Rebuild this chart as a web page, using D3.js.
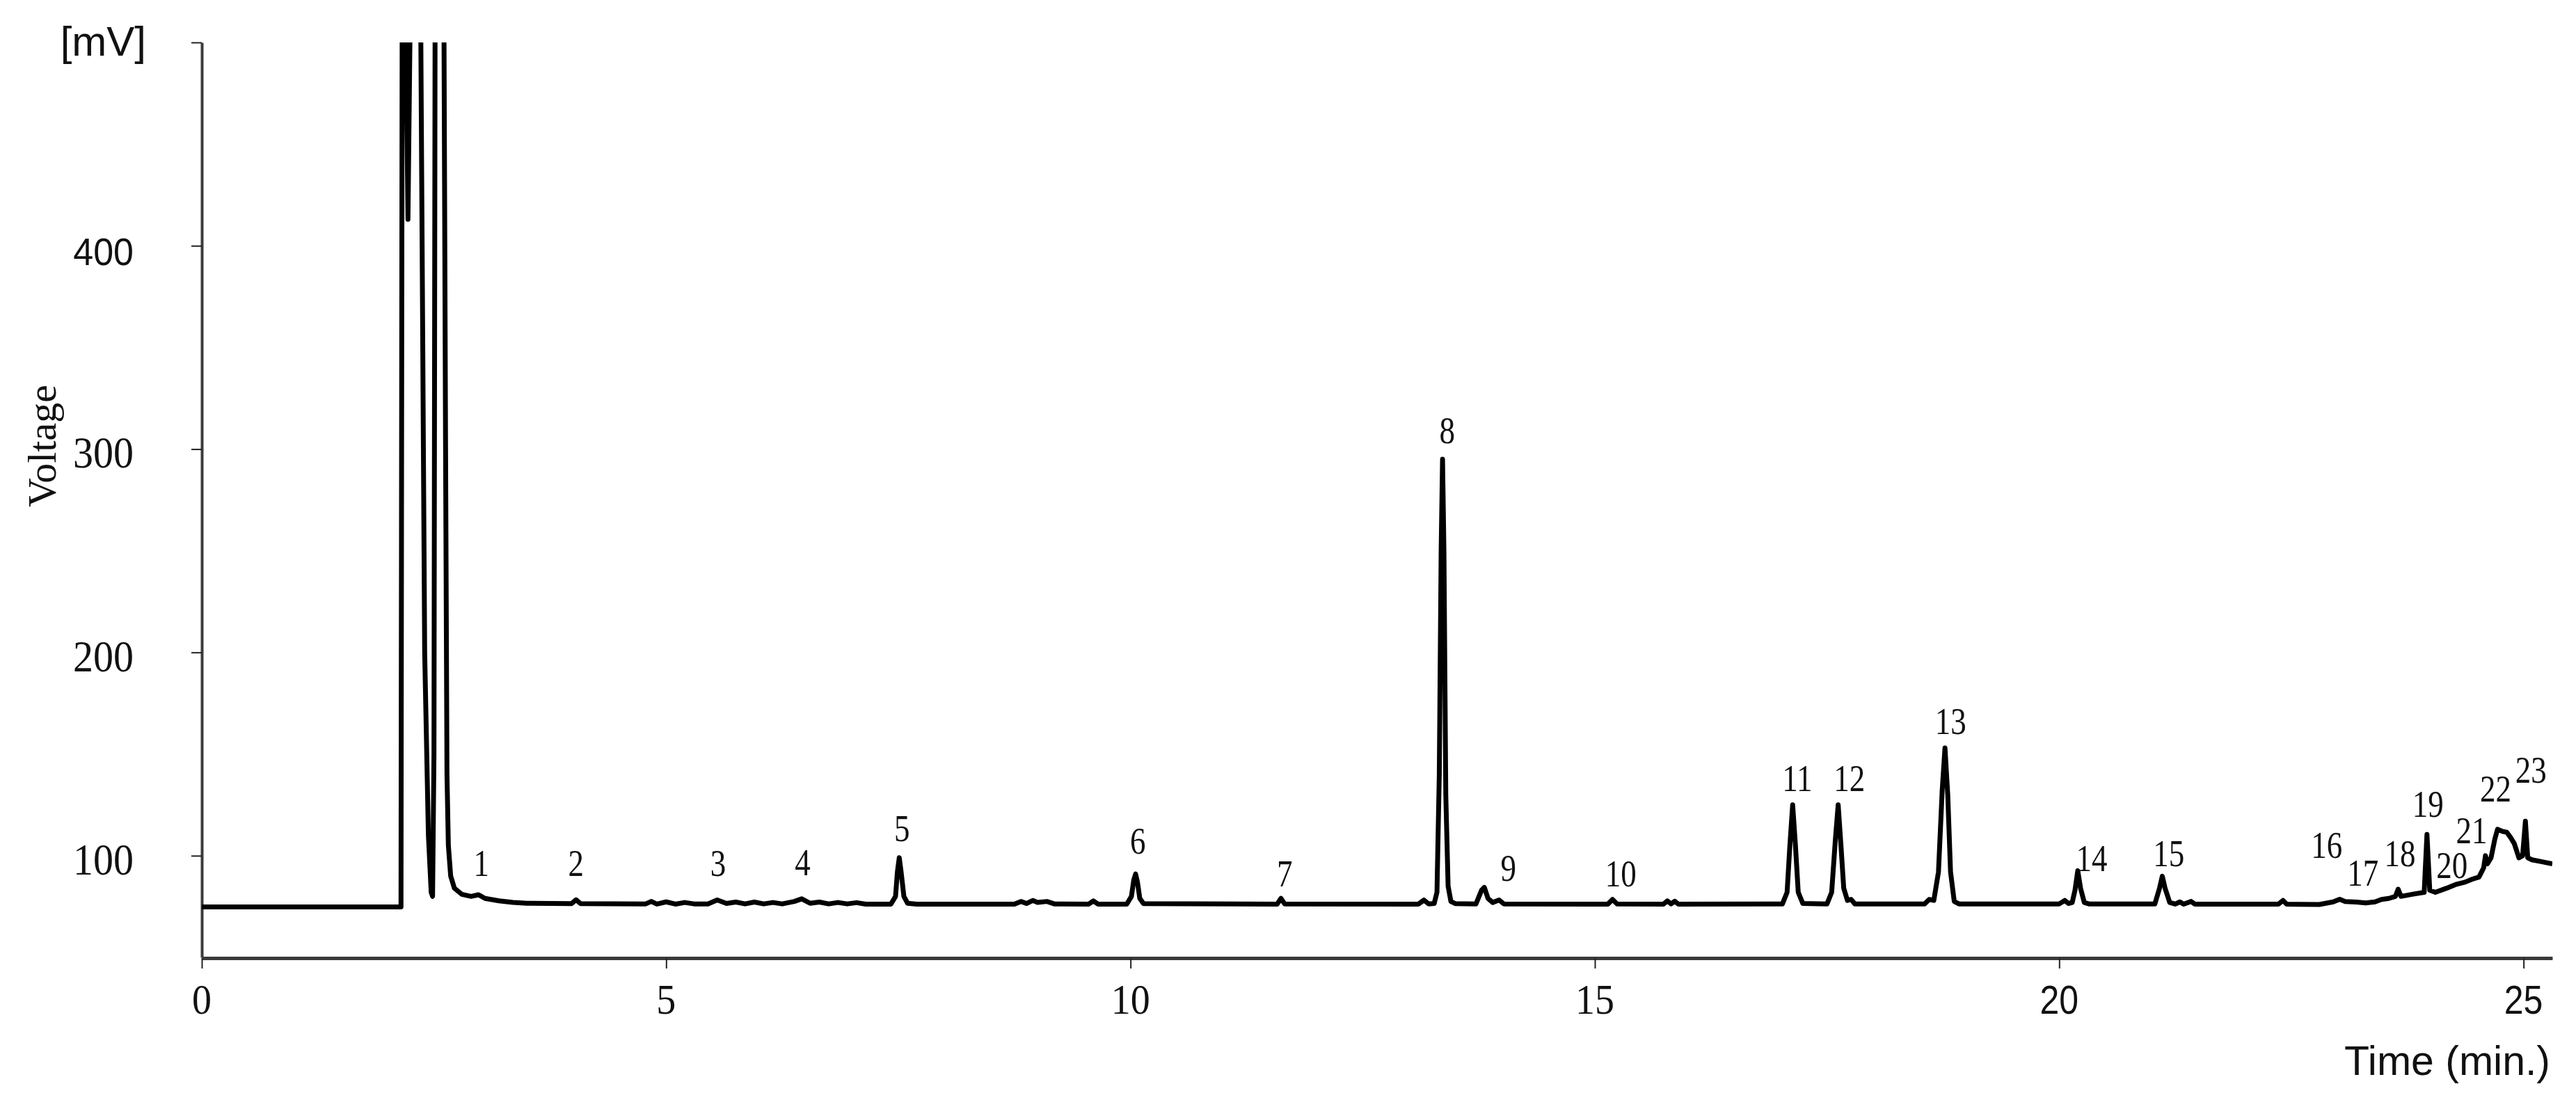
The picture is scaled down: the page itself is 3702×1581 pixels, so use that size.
<!DOCTYPE html>
<html>
<head>
<meta charset="utf-8">
<script src="https://cdn.jsdelivr.net/npm/d3@7"></script>
<style>
  html, body { margin: 0; padding: 0; background: #ffffff; }
  svg { display: block; }
</style>
</head>
<body>
<svg id="chart" width="3702" height="1581"></svg>
<script>
// ---------------- DATA ----------------
const traceTime = [
  0, 2.145, 2.16, 2.175, 2.22, 2.265, 2.345, 2.40, 2.44, 2.47, 2.485, 2.50, 2.515, 2.60, 2.625, 2.64, 2.655, 2.68, 2.72, 2.80,
  2.90, 2.98, 3.05, 3.20, 3.35, 3.50, 3.98, 4.03, 4.08, 4.78, 4.84, 4.90, 5.00, 5.10, 5.20, 5.30, 5.45, 5.55, 5.65, 5.75,
  5.85, 5.95, 6.05, 6.15, 6.25, 6.38, 6.46, 6.55, 6.65, 6.75, 6.85, 6.95, 7.05, 7.15, 7.42, 7.47, 7.49, 7.51, 7.53, 7.56,
  7.60, 7.70, 8.75, 8.82, 8.88, 8.95, 9.00, 9.10, 9.18, 9.55, 9.60, 9.65, 9.96, 10.01, 10.035, 10.055, 10.075, 10.10, 10.14, 11.58,
  11.62, 11.66, 13.10, 13.16, 13.21, 13.27, 13.30, 13.325, 13.345, 13.36, 13.375, 13.395, 13.42, 13.45, 13.50, 13.72, 13.78, 13.81, 13.85, 13.90,
  13.97, 14.02, 15.14, 15.19, 15.24, 15.74, 15.78, 15.82, 15.86, 15.90, 17.02, 17.07, 17.10, 17.13, 17.16, 17.19, 17.24, 17.50, 17.55, 17.59,
  17.62, 17.65, 17.68, 17.72, 17.76, 17.80, 18.55, 18.60, 18.65, 18.70, 18.74, 18.77, 18.80, 18.83, 18.87, 18.92, 20.00, 20.06, 20.10, 20.14,
  20.17, 20.20, 20.23, 20.27, 20.32, 21.03, 21.08, 21.11, 21.14, 21.19, 21.25, 21.30, 21.34, 21.42, 21.46, 22.36, 22.41, 22.45, 22.80, 22.87,
  22.95, 23.02, 23.08, 23.20, 23.30, 23.40, 23.47, 23.55, 23.62, 23.65, 23.68, 23.80, 23.93, 23.96, 23.99, 24.05, 24.17, 24.28, 24.37, 24.45,
  24.52, 24.57, 24.59, 24.61, 24.65, 24.69, 24.72, 24.77, 24.82, 24.86, 24.90, 24.95, 24.99, 25.02, 25.045, 25.09, 25.20, 25.31
];
const traceMV = [
  74.8, 74.8, 600, 600, 413, 600, 600, 200, 110, 82, 80, 150, 600, 600, 300, 140, 105, 90, 84, 81,
  80, 80.8, 79, 77.8, 77, 76.6, 76.4, 78.3, 76.4, 76.3, 77.5, 76.2, 77.3, 76.2, 77.0, 76.3, 76.3, 78.2, 76.5, 77.2,
  76.3, 77.2, 76.3, 77.0, 76.3, 77.5, 78.8, 76.6, 77.2, 76.3, 77.0, 76.3, 76.9, 76.2, 76.2, 80, 92, 99, 92, 80,
  76.6, 76.2, 76.2, 77.5, 76.5, 78.0, 77.0, 77.5, 76.3, 76.2, 77.8, 76.2, 76.2, 80, 88, 91, 87, 79, 76.4, 76.2,
  79.0, 76.3, 76.2, 78.2, 76.3, 76.5, 82, 140, 250, 295, 250, 130, 85, 77.5, 76.4, 76.3, 83, 84.4, 79, 77,
  78.2, 76.3, 76.2, 78.5, 76.3, 76.2, 77.8, 76.3, 77.6, 76.2, 76.3, 82, 105, 125, 105, 82, 76.5, 76.3, 82, 108,
  125, 105, 84, 78, 78.5, 76.3, 76.3, 78.5, 78, 92, 132, 153, 130, 92, 77.5, 76.3, 76.3, 78.0, 76.5, 77,
  83, 92.6, 84, 77, 76.3, 76.3, 84, 89.9, 84, 77, 76.2, 77.3, 76.2, 77.5, 76.2, 76.2, 78.0, 76.2, 76.0, 76.6,
  77.3, 78.6, 77.5, 77.2, 76.8, 77.3, 78.5, 79, 80, 83.5, 80, 81, 82, 110.5, 83, 82, 84, 86, 87, 88.5,
  89.5, 94, 100, 96, 99, 108, 113, 112, 111.5, 109, 106, 99, 100, 117, 99, 98, 97, 96
];

const peakLabels    = ["1","2","3","4","5","6","7","8","9","10","11","12","13","14","15","16","17","18","19","20","21","22","23"];
const peakLabelTime = [3.01, 4.03, 5.56, 6.47, 7.54, 10.08, 11.66, 13.41, 14.07, 15.28, 17.18, 17.74, 18.83, 20.35, 21.18, 22.88, 23.27, 23.67, 23.97, 24.23, 24.44, 24.70, 25.08];
const peakLabelMV   = [90.0, 90.0, 90.0, 90.4, 107, 100.9, 85, 303, 87.8, 85, 131.7, 131.7, 160, 92.6, 95, 99, 85.4, 95, 119, 89, 106, 126.5, 136];

const yTickValues = [100, 200, 300, 400, 500];
const yTickLabels = ["100", "200", "300", "400", "[mV]"];
const xTickValues = [0, 5, 10, 15, 20, 25];
const xTickLabels = ["0", "5", "10", "15", "20", "25"];

const yTitle = "Voltage";
const xTitle = "Time (min.)";

const xDomain = [0, 25.31];
const yDomain = [50, 500];

// ---------------- LAYOUT / STYLE ----------------
const W = 3702, H = 1581;
const margin = { left: 290, top: 61, right: 34, bottom: 205 };
const SERIF = "'Liberation Serif', 'Times New Roman', 'DejaVu Serif', serif";
const SANS  = "'Liberation Sans', Arial, 'DejaVu Sans', sans-serif";
const sansTickLabels = new Set(["400", "[mV]", "20", "25"]);

const svg = d3.select("#chart");
svg.append("rect").attr("width", W).attr("height", H).attr("fill", "#fff");

const x = d3.scaleLinear().domain(xDomain).range([margin.left, W - margin.right]);
const y = d3.scaleLinear().domain(yDomain).range([H - margin.bottom, margin.top]);

// clip
svg.append("defs").append("clipPath").attr("id", "plotClip")
  .append("rect")
  .attr("x", x(xDomain[0])).attr("y", y(yDomain[1]))
  .attr("width", x(xDomain[1]) - x(xDomain[0]))
  .attr("height", y(yDomain[0]) - y(yDomain[1]));

// axes
const yAxis = d3.axisLeft(y).tickValues(yTickValues).tickSize(15).tickSizeOuter(0).tickFormat("");
const xAxis = d3.axisBottom(x).tickValues(xTickValues).tickSize(15).tickSizeOuter(0).tickFormat("");

const gy = svg.append("g").attr("transform", `translate(${x(xDomain[0])},0)`).call(yAxis);
gy.select(".domain").attr("stroke", "#3a3a3a").attr("stroke-width", 4);
gy.selectAll(".tick line").attr("stroke", "#222").attr("stroke-width", 2);

const gx = svg.append("g").attr("transform", `translate(0,${y(yDomain[0]) + 1})`).call(xAxis);
gx.select(".domain").attr("stroke", "#3a3a3a").attr("stroke-width", 5);
gx.selectAll(".tick line").attr("stroke", "#222").attr("stroke-width", 2);

// y tick labels
yTickValues.forEach((v, i) => {
  const lab = yTickLabels[i];
  const sans = sansTickLabels.has(lab);
  let tx, ty, fs, sy;
  if (lab === "[mV]") { tx = 210; ty = y(v) + 19; fs = 60; sy = 1.0; }
  else if (sans)      { tx = 192; ty = y(v) + 28; fs = 52; sy = 1.08; }
  else                { tx = 192; ty = y(v) + 27; fs = 58; sy = 1.08; }
  svg.append("text")
    .attr("transform", `translate(${tx},${ty}) scale(1,${sy})`)
    .attr("text-anchor", "end")
    .attr("font-family", sans ? SANS : SERIF)
    .attr("font-size", fs)
    .attr("fill", "#111")
    .text(lab);
});

// x tick labels
xTickValues.forEach((v, i) => {
  const lab = xTickLabels[i];
  const sans = sansTickLabels.has(lab);
  svg.append("text")
    .attr("transform", `translate(${x(v)},${1457}) scale(1,${sans ? 1.15 : 1.08})`)
    .attr("text-anchor", "middle")
    .attr("font-family", sans ? SANS : SERIF)
    .attr("font-size", sans ? 50 : 56)
    .attr("fill", "#111")
    .text(lab);
});

// axis titles
svg.append("text")
  .attr("transform", `translate(80,641) rotate(-90)`)
  .attr("text-anchor", "middle")
  .attr("font-family", SERIF)
  .attr("font-size", 58)
  .attr("fill", "#111")
  .text(yTitle);

svg.append("text")
  .attr("x", 3665).attr("y", 1545)
  .attr("text-anchor", "end")
  .attr("font-family", SANS)
  .attr("font-size", 59)
  .attr("fill", "#111")
  .text(xTitle);

// trace
const traceData = traceTime.map((t, i) => ({ t, v: traceMV[i] }));
const line = d3.line().x(d => x(d.t)).y(d => y(d.v)).curve(d3.curveLinear);
svg.append("g").attr("clip-path", "url(#plotClip)")
  .append("path")
  .datum(traceData)
  .attr("d", line)
  .attr("fill", "none")
  .attr("stroke", "#000")
  .attr("stroke-width", 7)
  .attr("stroke-linejoin", "round")
  .attr("stroke-linecap", "butt");

// peak labels
peakLabels.forEach((lab, i) => {
  svg.append("text")
    .attr("transform", `translate(${x(peakLabelTime[i])},${y(peakLabelMV[i])}) scale(1,1.2)`)
    .attr("text-anchor", "middle")
    .attr("font-family", SERIF)
    .attr("font-size", 45)
    .attr("fill", "#111")
    .text(lab);
});
</script>
</body>
</html>
